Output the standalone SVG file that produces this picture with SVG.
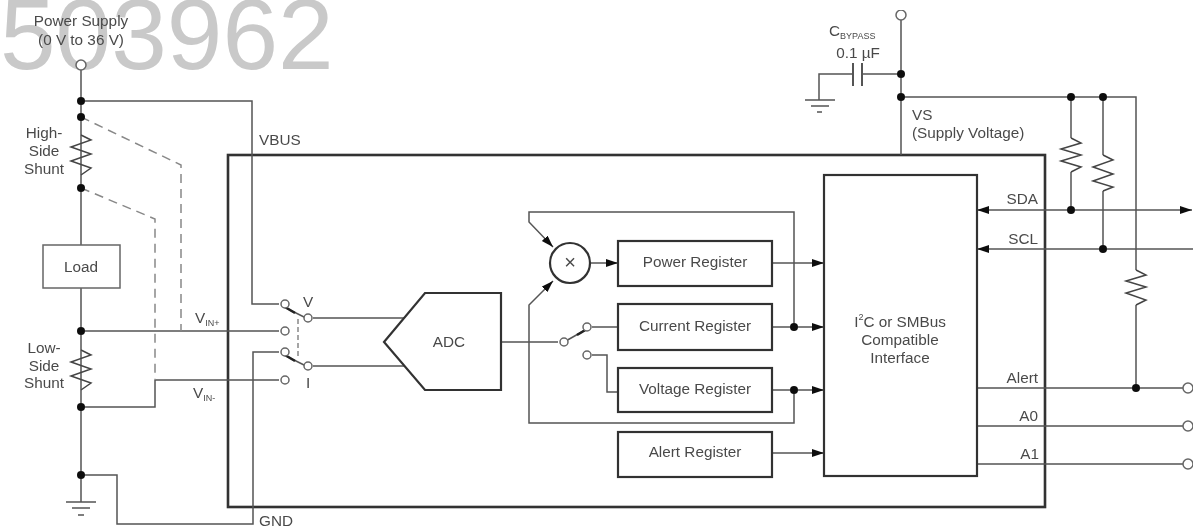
<svg xmlns="http://www.w3.org/2000/svg" width="1203" height="527" viewBox="0 0 1203 527">
<style>
text{font-family:"Liberation Sans",Arial,sans-serif;font-size:15.3px;fill:#4a4a4a}
.m{text-anchor:middle}.e{text-anchor:end}
.sub{font-size:9px}
.wm{font-size:100px;fill:#c9c9c9}
.w{fill:none;stroke:#555;stroke-width:1.5}
.d{fill:none;stroke:#888;stroke-width:1.5;stroke-dasharray:9 6}
.b{fill:#fff;stroke:#333;stroke-width:2.2}
.n{fill:none;stroke:#333;stroke-width:2.6}
.j{fill:#111}
.t{fill:#fff;stroke:#666;stroke-width:1.5}
.arm{fill:none;stroke:#222;stroke-width:2.6}
</style>
<defs>
<marker id="ah" markerUnits="userSpaceOnUse" markerWidth="14" markerHeight="10" refX="12" refY="4" orient="auto"><path d="M0 0L12 4L0 8Z" fill="#111"/></marker>
<marker id="as" markerUnits="userSpaceOnUse" markerWidth="14" markerHeight="10" refX="12" refY="4" orient="auto-start-reverse"><path d="M0 0L12 4L0 8Z" fill="#111"/></marker>
<filter id="soft" x="0" y="0" width="100%" height="100%" filterUnits="objectBoundingBox"><feGaussianBlur stdDeviation="0.45"/></filter>
</defs>
<rect width="1203" height="527" fill="#fff"/>
<text id="watermark" class="wm" x="0" y="69">503962</text>
<g filter="url(#soft)">
<g id="chip"><rect x="228" y="155" width="817" height="352" class="n"/></g>
<g id="connectors">
<path class="w" d="M81 70V245M81 288V502M81 101H252V304H279M81 331H279M155 380H279M155 380V407H81M81 475H117V524H253V352H279"/>
<path class="d" d="M81 117L181 165V331M81 188L155 219V380"/>
<path class="d" d="M298 319V358" style="stroke-dasharray:5 3"/>
<path class="w" d="M313 318H404M313 366H404M501 342H558M592 327H618M592 355H607V392H618"/>
<path class="w" d="M794 327V212H529V222L553 247" marker-end="url(#ah)"/>
<path class="w" d="M794 390V423H529V305L553 281" marker-end="url(#ah)"/>
<path class="w" d="M590 263H618" marker-end="url(#ah)"/>
<path class="w" d="M772 263H824" marker-end="url(#ah)"/>
<path class="w" d="M772 327H824" marker-end="url(#ah)"/>
<path class="w" d="M772 390H824" marker-end="url(#ah)"/>
<path class="w" d="M772 453H824" marker-end="url(#ah)"/>
<path class="w" d="M901 20V155M901 74H862M853 74H819V100M901 97H1136V270M1136 305V388M1071 97V138M1071 172V210M1103 97V155M1103 191V249"/>
<path class="w" d="M977 210H1192" marker-start="url(#as)" marker-end="url(#as)"/>
<path class="w" d="M977 249H1193" marker-start="url(#as)"/>
<path class="w" d="M977 388H1183M977 426H1183M977 464H1183"/>
<path class="w" d="M853 63V86M862 63V86" style="stroke-width:2"/>
<path class="w" d="M66 502H96M72 508H90M78 515H84M805 100H835M811 106H829M817 112H822"/>
<path class="w" d="M81 135L91 140L71 147L91 154L71 161L91 168L81 175M81 350L91 355L71 362L91 369L71 376L91 383L81 390" style="stroke:#444"/>
<path class="w" d="M1071 138L1081 143L1061 149L1081 155L1061 161L1081 167L1071 172M1103 155L1113 160L1093 167L1113 174L1093 181L1113 187L1103 191M1136 270L1146 275L1126 281L1146 287L1126 293L1146 300L1136 305" style="stroke:#444"/>
<path class="w" d="M286 308L308 319M286 356L308 367M564 342L587 329"/>
<path class="arm" d="M285 307L295 313M285 355L295 361M577 335L587 329"/>
</g>
<g id="junctions">
<circle class="j" cx="81" cy="101" r="4"/><circle class="j" cx="81" cy="117" r="4"/><circle class="j" cx="81" cy="188" r="4"/><circle class="j" cx="81" cy="331" r="4"/><circle class="j" cx="81" cy="407" r="4"/><circle class="j" cx="81" cy="475" r="4"/>
<circle class="j" cx="794" cy="327" r="4"/><circle class="j" cx="794" cy="390" r="4"/><circle class="j" cx="901" cy="74" r="4"/><circle class="j" cx="901" cy="97" r="4"/><circle class="j" cx="1071" cy="97" r="4"/><circle class="j" cx="1103" cy="97" r="4"/><circle class="j" cx="1071" cy="210" r="4"/><circle class="j" cx="1103" cy="249" r="4"/><circle class="j" cx="1136" cy="388" r="4"/>
</g>
<g id="terminals">
<circle class="t" cx="81" cy="65" r="5"/><circle class="t" cx="901" cy="15" r="5"/><circle class="t" cx="1188" cy="388" r="5"/><circle class="t" cx="1188" cy="426" r="5"/><circle class="t" cx="1188" cy="464" r="5"/>
<circle class="t" cx="285" cy="304" r="4"/><circle class="t" cx="285" cy="331" r="4"/><circle class="t" cx="285" cy="352" r="4"/><circle class="t" cx="285" cy="380" r="4"/><circle class="t" cx="308" cy="318" r="4"/><circle class="t" cx="308" cy="366" r="4"/>
<circle class="t" cx="564" cy="342" r="4"/><circle class="t" cx="587" cy="327" r="4"/><circle class="t" cx="587" cy="355" r="4"/>
</g>
<g id="load"><rect x="43" y="245" width="77" height="43" fill="#fff" stroke="#666" stroke-width="1.5"/><text class="m" x="81" y="272">Load</text></g>
<g id="adc"><polygon class="b" points="384,342 425,293 501,293 501,390 425,390"/><text class="m" x="449" y="347">ADC</text></g>
<g id="multiplier"><circle class="b" cx="570" cy="263" r="20"/><text class="m" x="570" y="269" style="font-size:20px">×</text></g>
<g id="power-register"><rect class="b" x="618" y="241" width="154" height="45"/><text class="m" x="695" y="267">Power Register</text></g>
<g id="current-register"><rect class="b" x="618" y="304" width="154" height="46"/><text class="m" x="695" y="331">Current Register</text></g>
<g id="voltage-register"><rect class="b" x="618" y="368" width="154" height="44"/><text class="m" x="695" y="394">Voltage Register</text></g>
<g id="alert-register"><rect class="b" x="618" y="432" width="154" height="45"/><text class="m" x="695" y="457">Alert Register</text></g>
<g id="interface"><rect class="b" x="824" y="175" width="153" height="301"/>
<text class="m" x="900" y="327">I<tspan class="sub" dy="-7">2</tspan><tspan dy="7">C or SMBus</tspan></text>
<text class="m" x="900" y="345">Compatible</text><text class="m" x="900" y="363">Interface</text></g>
<g id="labels">
<text class="m" x="81" y="26">Power Supply</text><text class="m" x="81" y="45">(0 V to 36 V)</text>
<text class="m" x="44" y="138">High-</text><text class="m" x="44" y="156">Side</text><text class="m" x="44" y="174">Shunt</text>
<text class="m" x="44" y="353">Low-</text><text class="m" x="44" y="371">Side</text><text class="m" x="44" y="388">Shunt</text>
<text x="259" y="145">VBUS</text><text x="259" y="526">GND</text>
<text x="195" y="323">V<tspan class="sub" dy="3">IN+</tspan></text>
<text x="193" y="398">V<tspan class="sub" dy="3">IN-</tspan></text>
<text class="m" x="308" y="307">V</text><text class="m" x="308" y="388">I</text>
<text x="829" y="36">C<tspan class="sub" dy="3">BYPASS</tspan></text><text class="m" x="858" y="58">0.1 µF</text>
<text x="912" y="120">VS</text><text x="912" y="138">(Supply Voltage)</text>
<text class="e" x="1038" y="204">SDA</text><text class="e" x="1038" y="244">SCL</text>
<text class="e" x="1038" y="383">Alert</text><text class="e" x="1038" y="421">A0</text><text class="e" x="1039" y="459">A1</text>
</g>
</g>
</svg>
